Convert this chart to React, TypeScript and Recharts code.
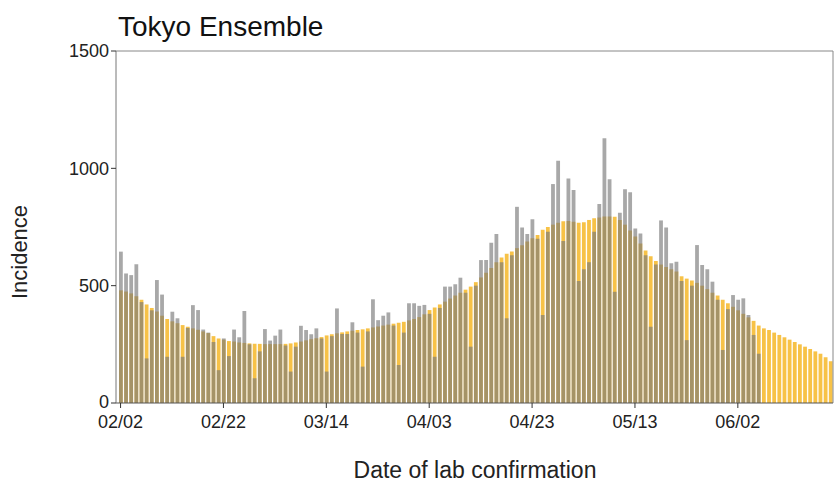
import { BarChart, Bar, XAxis, YAxis, ReferenceLine } from 'recharts';

// daily counts, one per day starting 02/02
const observed = [
  645, 552, 545, 591, 430, 190, 395, 524, 462, 197,
  389, 361, 197, 320, 417, 396, 313, 300, 260, 140,
  275, 200, 313, 280, 392, 250, 105, 220, 315, 266,
  287, 313, 245, 134, 240, 329, 311, 293, 318, 275,
  134, 285, 403, 294, 294, 344, 300, 155, 305, 442,
  353, 372, 386, 330, 162, 300, 425, 425, 414, 418,
  380, 197, 405, 496, 496, 506, 534, 470, 240, 500,
  609, 609, 683, 720, 600, 361, 630, 836, 748, 720,
  783, 700, 375, 730, 933, 1032, 690, 957, 908, 520,
  570, 600, 730, 848, 1128, 953, 474, 811, 911, 898,
  744, 722, 630, 325, 590, 778, 748, 596, 602, 520,
  268, 500, 673, 588, 570, 517, 440, 226, 400, 460,
  440, 446, 375, 290, 210,
];

const ensemble = [
  480, 475, 467, 455, 440, 420, 405, 390, 372, 358,
  348, 340, 332, 325, 318, 312, 305, 298, 285, 275,
  270, 264, 262, 258, 256, 254, 253, 252, 251, 251,
  251, 251, 252, 254, 258, 262, 267, 272, 276, 281,
  288, 293, 297, 301, 305, 308, 311, 314, 318, 322,
  326, 330, 334, 338, 342, 346, 352, 358, 366, 378,
  396, 407, 420, 432, 445, 458, 470, 483, 496, 515,
  535, 555, 575, 600, 620, 636, 646, 660, 672, 688,
  702, 716, 738, 750, 760, 768, 774, 776, 772, 768,
  770, 780, 787, 790, 795, 795, 794, 780, 760, 735,
  710, 680, 650, 625, 605, 590, 580, 570, 560, 540,
  530, 522, 512, 500, 485, 470, 458, 440, 425, 410,
  395, 380, 365, 350, 330, 318, 311, 300, 290, 280,
  270, 260, 250, 240, 230, 220, 210, 195, 178,
];

const tickLabels = ['02/02', '02/22', '03/14', '04/03', '04/23', '05/13', '06/02'];
const yTicks = [0, 500, 1000, 1500];

// category labels mm/dd from 02/02 on (2021, no leap day)
const monthLen = [0, 31, 28, 31, 30, 31, 30, 31];
const dates: string[] = [];
{
  let m = 2;
  let d = 2;
  for (let i = 0; i < ensemble.length; i++) {
    dates.push(`${String(m).padStart(2, '0')}/${String(d).padStart(2, '0')}`);
    d++;
    if (d > monthLen[m]) {
      d = 1;
      m++;
    }
  }
}

const rows = dates.map((date, i) => ({
  date,
  ensemble: ensemble[i],
  observed: i < observed.length ? observed[i] : null,
}));

const lastDate = dates[dates.length - 1];
const font = '"Liberation Sans", Arial, sans-serif';

// y tick label; the 0 sits a hair higher so it clears the first date label
function YTick(props: any) {
  const { x, y, payload } = props;
  return (
    <text
      x={x}
      y={y}
      dy={payload.value === 0 ? '0.25em' : '0.355em'}
      textAnchor="end"
      fontSize={18}
      fill="#222"
      fontFamily={font}
    >
      {payload.value}
    </text>
  );
}

export default function App() {
  return (
    <div style={{ position: 'absolute', left: 0, top: 0, width: 835, height: 490, background: '#fff', fontFamily: font }}>
      <BarChart
        width={835}
        height={490}
        data={rows}
        margin={{ top: 51, right: 2, bottom: 0, left: 0 }}
        barCategoryGap={0}
        barGap={0}
      >
        <XAxis
          xAxisId="x"
          dataKey="date"
          ticks={tickLabels}
          interval={0}
          height={87}
          tickSize={5}
          tickMargin={7}
          padding={{ left: 2, right: 0 }}
          axisLine={{ stroke: '#555' }}
          tickLine={{ stroke: '#333' }}
          tick={{ fontSize: 18, fill: '#222', fontFamily: font }}
        />
        <XAxis xAxisId="x2" dataKey="date" hide padding={{ left: 2, right: 0 }} />
        <YAxis
          domain={[0, 1500]}
          ticks={yTicks}
          width={116}
          tickSize={5}
          axisLine={{ stroke: '#777' }}
          tickLine={{ stroke: '#333' }}
          tick={YTick}
        />
        {/* top and right frame lines */}
        <ReferenceLine xAxisId="x" y={1500} stroke="#888" />
        <ReferenceLine xAxisId="x" x={lastDate} position="end" stroke="#888" />
        <Bar xAxisId="x" dataKey="ensemble" fill="#f4ab00" fillOpacity={0.72} barSize={3.8} isAnimationActive={false} />
        <Bar xAxisId="x2" dataKey="observed" fill="#7a7a7a" fillOpacity={0.65} barSize={3.8} isAnimationActive={false} />
      </BarChart>
      <div style={{ position: 'absolute', left: 118, top: 11, fontSize: 28, lineHeight: '31px', color: '#111' }}>
        Tokyo Ensemble
      </div>
      <div
        style={{
          position: 'absolute',
          left: 20,
          top: 252,
          transform: 'translate(-50%, -50%) rotate(-90deg)',
          fontSize: 22,
          lineHeight: '24px',
          color: '#222',
          whiteSpace: 'nowrap',
        }}
      >
        Incidence
      </div>
      <div
        style={{
          position: 'absolute',
          left: 475,
          top: 470,
          transform: 'translate(-50%, -50%)',
          fontSize: 23,
          lineHeight: '26px',
          color: '#222',
          whiteSpace: 'nowrap',
        }}
      >
        Date of lab confirmation
      </div>
    </div>
  );
}
